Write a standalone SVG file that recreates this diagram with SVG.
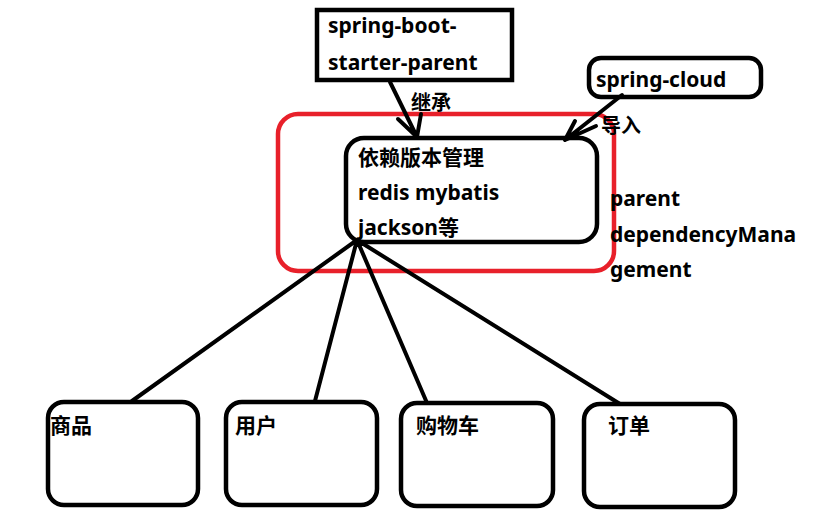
<svg xmlns="http://www.w3.org/2000/svg" width="819" height="529" viewBox="0 0 819 529">
<defs>
<style>
.box{fill:none;stroke:#000;stroke-width:4.5}
.red{fill:none;stroke:#e8202a;stroke-width:4.5}
.t{font-family:"Noto Sans","Noto Sans CJK SC",sans-serif;font-weight:bold;font-size:21px;fill:#000}
.s{font-size:20px}
.ln{fill:none;stroke:#000;stroke-width:4;stroke-linecap:round;stroke-linejoin:round}
</style>
</defs>
<rect width="819" height="529" fill="#fff"/>
<g id="red-frame"><rect class="red" x="278" y="114" width="336" height="157" rx="20"/></g>
<g id="parent-node">
<rect class="box" x="317" y="10" width="195" height="70"/>
<text class="t" x="328" y="33">spring-boot-</text>
<text class="t" x="328" y="70">starter-parent</text>
</g>
<g id="cloud-node">
<rect class="box" x="589" y="58" width="172" height="39" rx="12"/>
<text class="t" x="596" y="87">spring-cloud</text>
</g>
<g id="core-node">
<rect class="box" x="346" y="138" width="251" height="104" rx="18"/>
<text class="t" x="358" y="165">依赖版本管理</text>
<text class="t" x="358" y="200">redis mybatis</text>
<text class="t" x="358" y="235">jackson等</text>
</g>
<g id="side-note">
<text class="t" x="610" y="206">parent</text>
<text class="t" x="610" y="242">dependencyMana</text>
<text class="t" x="610" y="277">gement</text>
</g>
<g id="svc1"><rect class="box" x="48" y="402" width="150" height="103" rx="16"/><text class="t" x="50" y="433">商品</text></g>
<g id="svc2"><rect class="box" x="226" y="402" width="151" height="103" rx="16"/><text class="t" x="235" y="433">用户</text></g>
<g id="svc3"><rect class="box" x="401" y="403" width="152" height="103" rx="16"/><text class="t" x="416" y="433">购物车</text></g>
<g id="svc4"><rect class="box" x="584" y="404" width="151" height="103" rx="16"/><text class="t" x="608" y="433">订单</text></g>
<g id="connectors">
<path class="ln" d="M390 82 L417 137 M398 119 L417 137 L421 114"/>
<text class="t s" x="411" y="110">继承</text>
<path class="ln" d="M622 95 L565 140 M575 121 L565 140 L596 126"/>
<text class="t s" x="601" y="133">导入</text>
<path class="ln" d="M357 240 L132 401 M357 240 L315 401 M357 240 L427 403 M357 240 L620 404"/>
</g>
</svg>
